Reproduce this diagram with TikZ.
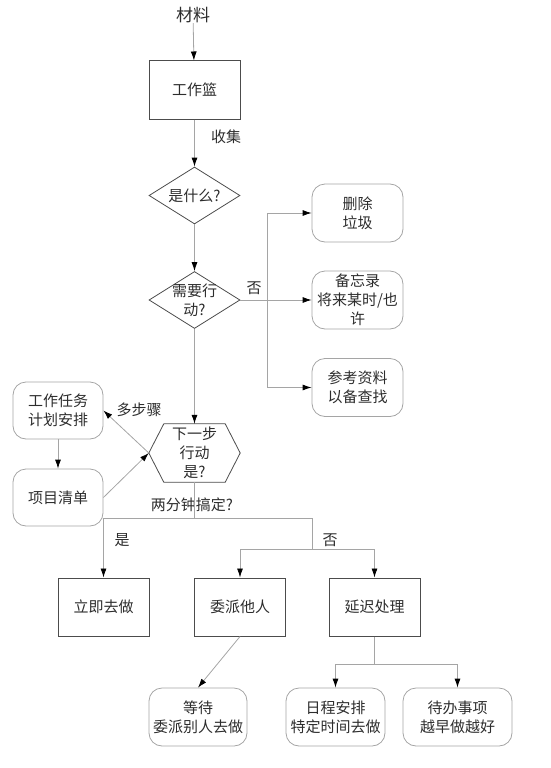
\documentclass[tikz,border=0pt]{standalone}
\usepackage{fontspec}
\newfontfamily\cjk{Noto Sans CJK SC}
\usetikzlibrary{shapes.geometric,arrows.meta}
\definecolor{LineGray}{RGB}{165,165,165}
\definecolor{TextGray}{RGB}{45,45,45}
\tikzstyle{TextNode}=[font=\cjk\fontsize{15}{19}\selectfont, text=TextGray, align=center, inner sep=0pt]
\tikzstyle{LabelNode}=[TextNode]
\tikzstyle{BoxNode}=[TextNode, rectangle, draw=black!70, line width=1pt, minimum width=91pt, minimum height=58pt]
\tikzstyle{RoundNode}=[TextNode, rectangle, rounded corners=13pt, draw=LineGray, line width=0.8pt, minimum width=91pt, minimum height=58pt]
\tikzstyle{DecisionNode}=[TextNode, diamond, aspect=1.6, inner sep=-3pt, draw=black!70, line width=0.8pt, minimum width=91pt, minimum height=57pt]
\tikzstyle{HexNode}=[TextNode, rectangle, minimum width=91pt, minimum height=58pt]
\tikzstyle{HexLine}=[draw=black!70, line width=0.8pt]
\tikzstyle{Line}=[draw=LineGray, line width=0.8pt]
\tikzstyle{Edge}=[Line, ->]
\tikzset{>={Latex[length=9pt,width=6pt,color=black]}}

\begin{document}
\begin{tikzpicture}[x=1pt,y=-1pt]
\useasboundingbox (0,0) rectangle (551,768);

\node[LabelNode, font=\cjk\fontsize{17}{19}\selectfont](Src) at (193,15) {材料};
\node[BoxNode](InBox) at (194.5,90) {工作篮};
\node[DecisionNode](What) at (194.5,195.5) {是什么?};
\node[DecisionNode](NeedAct) at (194.5,300) {需要行\\动?};

\node[RoundNode](Trash) at (357.5,213) {删除\\垃圾};
\node[RoundNode](Memo) at (357.5,300) {备忘录\\将来某时/也\\许};
\node[RoundNode](Ref) at (357.5,387.5) {参考资料\\以备查找};

\node[HexNode](Next) at (194.5,453) {下一步\\行动\\是?};
\draw[HexLine] (Next.west) -- ([xshift=15pt]Next.north west) -- ([xshift=-15pt]Next.north east) -- (Next.east) -- ([xshift=-15pt]Next.south east) -- ([xshift=15pt]Next.south west) -- cycle;

\node[RoundNode, minimum width=90pt, minimum height=57pt](Plan) at (58,410.5) {工作任务\\计划安排};
\node[RoundNode, minimum width=90pt, minimum height=57pt](Proj) at (58,497.5) {项目清单};

\node[BoxNode](DoNow) at (103.5,607) {立即去做};
\node[BoxNode](Deleg) at (240,607) {委派他人};
\node[BoxNode](Defer) at (374.5,607) {延迟处理};

\node[RoundNode, minimum width=98pt](Wait) at (198,717) {等待\\委派别人去做};
\node[RoundNode, minimum width=99pt](Sched) at (335.5,717) {日程安排\\特定时间去做};
\node[RoundNode, minimum width=109pt](Todo) at (457.5,717) {待办事项\\越早做越好};

\node[LabelNode](CollectLbl) at (226,137) {收集};
\node[LabelNode](NoLbl1) at (254,288) {否};
\node[LabelNode](StepsLbl) at (139,410) {多步骤};
\node[LabelNode](TwoMinLbl) at (192,505) {两分钟搞定?};
\node[LabelNode](YesLbl) at (122,540) {是};
\node[LabelNode](NoLbl2) at (330,540) {否};

\coordinate (Fork) at (267,300);
\coordinate (Split) at (194.5,518);
\coordinate (NoSplit) at (312,549);
\coordinate (DeferSplit) at (374.5,664);

\draw[Edge](Src) -- (InBox);
\draw[Edge](InBox) -- (What);
\draw[Edge](What) -- (NeedAct);
\draw[Edge](NeedAct.east) -- (Memo.west);
\draw[Edge](Fork) |- (Trash.west);
\draw[Edge](Fork) |- (Ref.west);
\draw[Edge](NeedAct) -- (Next);
\draw[Edge](Next.west) -- (Plan.east);
\draw[Edge](Plan) -- (Proj);
\draw[Edge](Proj.east) -- (Next.west);

\draw[Line](Next.south) -- (Split);
\draw[Edge](Split) -| (DoNow.north);
\draw[Line](Split) -| (NoSplit);
\draw[Edge](NoSplit) -| (Deleg.north);
\draw[Edge](NoSplit) -| (Defer.north);
\draw[Edge](Deleg.south) -- (Wait.north);
\draw[Line](Defer.south) -- (DeferSplit);
\draw[Edge](DeferSplit) -| (Sched.north);
\draw[Edge](DeferSplit) -| (Todo.north);
\end{tikzpicture}
\end{document}
